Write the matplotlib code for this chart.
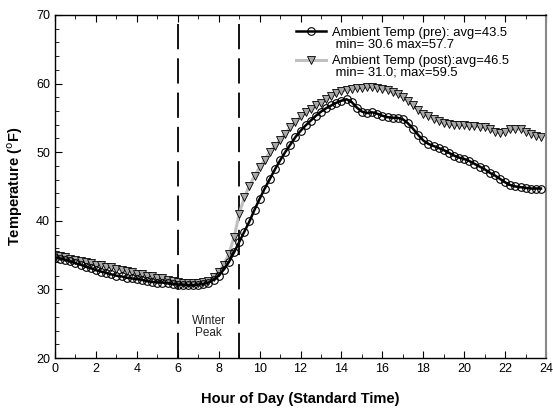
import matplotlib.pyplot as plt
from matplotlib.lines import Line2D
from matplotlib.ticker import MultipleLocator

plt.rcParams['font.family'] = ['Liberation Sans', 'DejaVu Sans']

# hour of day, 15-minute steps
hours = [i * 0.25 for i in range(96)]

temp_pre = [
    34.6, 34.5, 34.3, 34.1, 33.8, 33.6, 33.3, 33.1,
    32.8, 32.6, 32.4, 32.2, 32.0, 31.9, 31.7, 31.6,
    31.5, 31.4, 31.2, 31.1, 31.0, 31.0, 30.9, 30.8,
    30.7, 30.7, 30.6, 30.6, 30.7, 30.8, 31.0, 31.4,
    32.0, 32.9, 34.0, 35.4, 36.9, 38.4, 39.9, 41.6,
    43.2, 44.7, 46.1, 47.5, 48.8, 50.0, 51.1, 52.2,
    53.1, 53.9, 54.6, 55.3, 55.9, 56.4, 56.8, 57.2,
    57.5, 57.7, 57.3, 56.5, 55.9, 55.7, 55.8, 55.6,
    55.3, 55.1, 55.0, 55.0, 54.8, 54.2, 53.4, 52.5,
    51.7, 51.2, 50.9, 50.6, 50.3, 49.9, 49.5, 49.2,
    49.0, 48.7, 48.3, 47.9, 47.5, 47.0, 46.6, 46.1,
    45.6, 45.2, 45.0, 44.9, 44.8, 44.7, 44.7, 44.7,
]

temp_post = [
    35.0, 34.8, 34.7, 34.5, 34.3, 34.2, 34.0, 33.8,
    33.6, 33.5, 33.3, 33.2, 33.0, 32.8, 32.7, 32.5,
    32.3, 32.2, 32.0, 31.9, 31.7, 31.6, 31.4, 31.3,
    31.1, 31.0, 31.0, 31.0, 31.0, 31.1, 31.3, 31.8,
    32.6, 33.6, 35.2, 37.6, 41.0, 43.4, 45.1, 46.5,
    47.8, 48.9, 50.0, 50.9, 51.8, 52.7, 53.6, 54.4,
    55.2, 55.8, 56.3, 56.8, 57.2, 57.7, 58.2, 58.6,
    58.9, 59.1, 59.2, 59.3, 59.4, 59.5, 59.5, 59.4,
    59.2, 59.0, 58.7, 58.4, 58.0, 57.4, 56.8, 56.2,
    55.6, 55.2, 54.8, 54.5, 54.2, 54.1, 54.0, 54.0,
    53.9, 53.8, 53.8, 53.7, 53.6, 53.4, 53.0, 52.8,
    53.0, 53.3, 53.4, 53.3, 53.0, 52.7, 52.4, 52.2,
]

label_pre = ["Ambient Temp (pre): avg=43.5", " min= 30.6 max=57.7"]
label_post = ["Ambient Temp (post):avg=46.5", " min= 31.0; max=59.5"]
peak_start, peak_end = 6, 9

fig = plt.figure(figsize=(5.53, 4.13), dpi=100)
ax = fig.add_axes([0.0995, 0.133, 0.888, 0.831])

ln_post, = ax.plot(hours, temp_post, color="#c0c0c0", lw=2.2, marker="v", ms=5.5,
                   mfc="#a8a8a8", mec="black", mew=0.6, zorder=2)
ln_pre, = ax.plot(hours, temp_pre, color="black", lw=1.8, marker="o", ms=5.5,
                  mfc="none", mec="black", mew=0.8, zorder=3)

for xv in (peak_start, peak_end):
    ax.axvline(xv, color="black", lw=1.3, dashes=(14, 5), zorder=1)
ax.text(7.5, 24.5, "Winter\nPeak", ha="center", va="center", fontsize=8.5,
        color="#222222", linespacing=0.95)

ax.set_xlim(0, 24)
ax.set_ylim(20, 70)
ax.xaxis.set_major_locator(MultipleLocator(2))
ax.xaxis.set_minor_locator(MultipleLocator(1))
ax.yaxis.set_major_locator(MultipleLocator(10))
ax.yaxis.set_minor_locator(MultipleLocator(2))
ax.tick_params(which="both", direction="in", top=True, right=False, labelsize=9)
ax.tick_params(which="major", length=5)
ax.tick_params(which="minor", length=3)
for s in ax.spines.values():
    s.set_linewidth(1.0)
ax.spines["right"].set_color("#888888")
ax.spines["right"].set_linewidth(1.5)

ax.set_xlabel("Hour of Day (Standard Time)", fontsize=10.5, fontweight="bold", labelpad=12)
ax.set_ylabel("Temperature ($^{\\mathrm{o}}$F)", fontsize=10.5, fontweight="bold", labelpad=8)

blank = Line2D([], [], color="none")
leg_kw = dict(loc="upper left", frameon=False, fontsize=9.4, handlelength=2.3,
              handletextpad=0.4, labelspacing=-0.04, borderpad=0.0)
leg1 = ax.legend([ln_pre, blank], label_pre, bbox_to_anchor=(0.478, 0.984), **leg_kw)
ax.add_artist(leg1)
ax.legend([ln_post, blank], label_post, bbox_to_anchor=(0.478, 0.902), **leg_kw)

plt.savefig("out.png", dpi=100)
